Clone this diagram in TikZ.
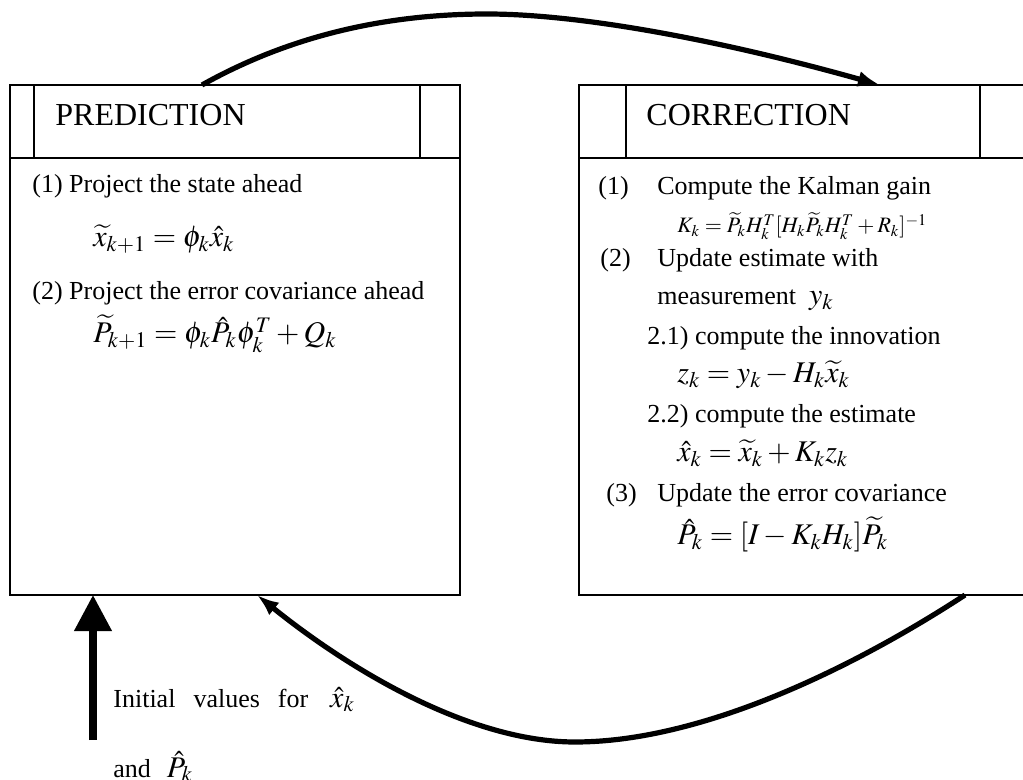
\documentclass[tikz,border=0pt]{standalone}
\usepackage{mathptmx}
\usepackage{amsmath}
\usepackage[no-math]{fontspec}
\setmainfont{Liberation Serif}
\usepackage{tikz}
\usetikzlibrary{arrows.meta, positioning, calc}

\begin{document}
\begin{tikzpicture}[x=0.5pt, y=-0.5pt,
  box/.style={draw, line width=0.6pt, minimum width=225pt, inner sep=0pt, outer sep=0pt},
  headbox/.style={box, minimum height=36.5pt},
  bodybox/.style={box, minimum height=218.5pt},
  head/.style={font=\fontsize{16}{19}\selectfont, anchor=base west, inner sep=0pt},
  txt/.style={font=\fontsize{13}{15}\selectfont, anchor=base west, inner sep=0pt},
  eq/.style={font=\fontsize{15}{18}\selectfont, anchor=base west, inner sep=0pt},
  smalleq/.style={font=\fontsize{11}{13}\selectfont, anchor=base west, inner sep=0pt},
  flow/.style={line width=2.6pt, -{Latex[length=11pt, width=8pt]}}]
  \useasboundingbox (0,0) rectangle (1023,780);
  \clip (0,0) rectangle (1023,780);

  % the two boxes
  \node[headbox] (predhead) at (235,121.5) {};
  \node[bodybox, below=0pt of predhead] (predbody) {};
  \node[headbox] (corrhead) at (804,121.5) {};
  \node[bodybox, below=0pt of corrhead] (corrbody) {};
  \draw[line width=0.6pt] ([xshift=12pt]predhead.north west) -- ([xshift=12pt]predhead.south west);
  \draw[line width=0.6pt] ([xshift=-20pt]predhead.north east) -- ([xshift=-20pt]predhead.south east);
  \draw[line width=0.6pt] ([xshift=23.5pt]corrhead.north west) -- ([xshift=23.5pt]corrhead.south west);
  \draw[line width=0.6pt] ([xshift=-24.5pt]corrhead.north east) -- ([xshift=-24.5pt]corrhead.south east);
  \node[head] (predtitle) at (55,126) {PREDICTION};
  \node[head] (corrtitle) at (646,126) {CORRECTION};

  % prediction
  \node[txt] (p1) at (32,193) {(1) Project the state ahead};
  \node[eq] (p1eq) at (93,247) {$\widetilde{x}_{k+1} = \phi_k\hat{x}_k$};
  \node[txt] (p2) at (32,300) {(2) Project the error covariance ahead};
  \node[eq] (p2eq) at (93,343) {$\widetilde{P}_{k+1} = \phi_k\hat{P}_k\phi_k^T + Q_k$};

  % correction
  \node[txt] (c1) at (598,195) {\makebox[29.5pt][l]{(1)}Compute the Kalman gain};
  \node[smalleq] (c1eq) at (677,233) {$K_k = \widetilde{P}_k H_k^T [H_k\widetilde{P}_k H_k^T + R_k]^{-1}$};
  \node[txt] (c2) at (600,267) {\makebox[28.5pt][l]{(2)}Update estimate with};
  \node[txt] (c2b) at (657,305) {measurement\ \ {\fontsize{15}{18}\selectfont$y_k$}};
  \node[txt] (c21) at (647,345) {2.1) compute the innovation};
  \node[eq] (c21eq) at (677,383) {$z_k = y_k - H_k\widetilde{x}_k$};
  \node[txt] (c22) at (647,423) {2.2) compute the estimate};
  \node[eq] (c22eq) at (677,462) {$\hat{x}_k = \widetilde{x}_k + K_k z_k$};
  \node[txt] (c3) at (606,502) {\makebox[25.5pt][l]{(3)}Update the error covariance};
  \node[eq] (c3eq) at (677,545) {$\hat{P}_k = [I - K_k H_k]\widetilde{P}_k$};

  % loop arrows
  \draw[flow] ([xshift=-16.5pt]predhead.north) .. controls (300,30) and (400,14) .. (487,14)
    .. controls (580,14) and (720,40) .. ([xshift=38pt]corrhead.north);
  \draw[flow] ([xshift=80.5pt]corrbody.south) .. controls (850,670) and (700,742) .. (575,742)
    .. controls (470,742) and (350,670) .. ([xshift=11pt]predbody.south);

  % initial values
  \coordinate (initstart) at (93,740);
  \draw[line width=3.6pt, -{Triangle[length=18pt, width=18pt]}] (initstart) -- ([xshift=-71pt]predbody.south);
  \node[txt] (init1) at (113,707) {Initial\hspace{9pt}values\hspace{9pt}for\hspace{11pt}{\fontsize{15}{18}\selectfont$\hat{x}_k$}};
  \node[txt] (init2) at (113,777) {and\hspace{8pt}{\fontsize{15}{18}\selectfont$\hat{P}_k$}};
\end{tikzpicture}
\end{document}
